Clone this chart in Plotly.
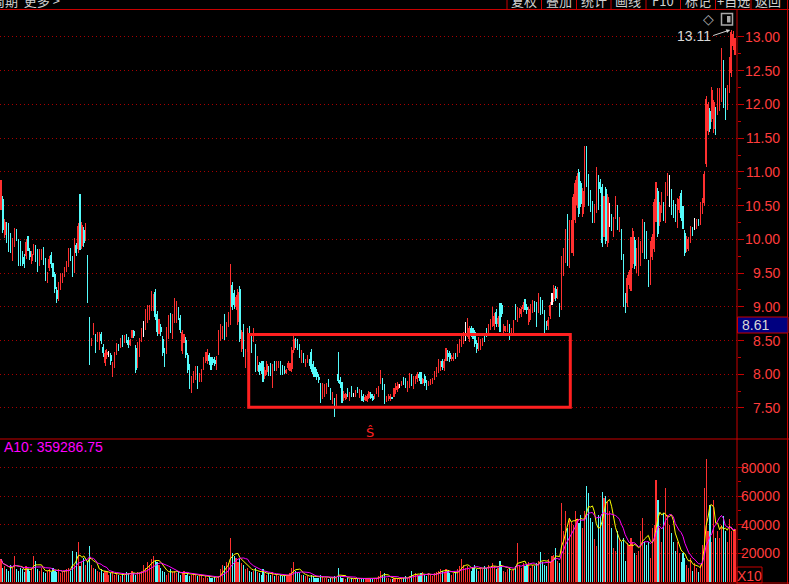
import plotly.graph_objects as go
import pandas as pd

W, H = 789, 584

opens = [
10.48,10.60,10.07,10.22,10.20,10.05,9.73,9.94,10.11,9.96,
9.94,9.79,9.74,9.76,10.01,9.83,9.68,9.82,9.88,9.82,
9.65,9.75,9.84,9.68,9.40,9.58,9.77,9.61,9.48,9.25,
9.14,9.30,9.40,9.49,9.57,9.64,9.83,9.71,9.55,9.91,
9.85,10.63,9.90,10.14,10.03,9.73,8.81,8.44,8.63,8.56,
8.53,8.41,8.59,8.41,8.17,8.28,8.30,8.28,8.01,8.14,
8.34,8.43,8.44,8.54,8.49,8.57,8.51,8.44,8.56,8.64,
8.39,8.14,8.31,8.53,8.67,8.71,8.81,8.85,8.99,8.99,
9.22,8.90,8.65,8.70,8.53,8.35,8.35,8.57,8.87,8.57,
8.81,8.81,8.96,8.84,8.35,8.51,8.51,8.28,8.11,7.77,
7.92,7.96,8.08,7.93,7.94,8.11,8.21,8.20,8.28,8.22,
8.22,8.21,8.11,8.34,8.55,8.57,8.85,8.60,8.75,8.78,
9.33,9.21,9.00,8.78,9.27,8.38,8.70,8.14,8.38,8.68,
8.57,8.53,8.41,8.10,8.14,8.16,8.15,7.98,8.04,8.08,
8.12,7.85,8.15,8.10,8.12,8.15,8.10,8.10,8.02,8.09,
8.07,8.08,8.36,8.50,8.48,8.41,8.21,8.28,8.13,8.18,
8.20,8.33,8.15,8.07,8.04,7.96,7.83,7.69,7.71,7.75,
7.91,7.76,7.61,7.61,7.56,8.00,7.92,7.85,7.65,7.64,
7.76,7.65,7.78,7.69,7.68,7.79,7.67,7.73,7.68,7.62,
7.61,7.65,7.71,7.68,7.65,7.73,7.71,7.87,7.90,7.82,
7.61,7.63,7.63,7.66,7.71,7.76,7.78,7.83,7.85,7.94,
7.90,7.79,7.85,7.96,7.83,7.88,7.93,8.00,7.99,7.87,
7.97,7.87,7.84,7.86,7.88,7.96,8.01,8.07,8.10,8.19,
8.10,8.25,8.32,8.31,8.22,8.22,8.29,8.31,8.37,8.45,
8.50,8.60,8.60,8.53,8.68,8.64,8.62,8.47,8.39,8.41,
8.45,8.58,8.65,8.64,8.71,8.75,8.71,8.92,8.75,9.02,
9.02,8.64,8.65,8.68,8.70,8.60,8.66,9.00,8.83,8.88,
8.90,8.96,9.07,9.00,8.78,8.85,8.96,9.04,9.03,8.96,
9.10,9.06,8.91,8.75,8.71,8.87,9.12,9.12,9.27,9.17,
9.02,9.00,9.50,9.70,10.34,9.62,9.85,9.80,10.29,10.51,
11.00,10.83,10.38,10.53,11.34,10.93,10.69,10.53,10.29,10.44,
10.91,10.85,10.78,10.08,10.74,9.94,10.36,10.34,10.08,10.35,
10.47,10.16,10.11,9.74,9.16,9.05,9.32,9.29,9.63,9.99,
9.55,9.51,9.65,9.85,10.22,10.08,9.65,9.37,9.74,9.86,
10.31,10.72,10.25,10.44,10.51,10.29,10.69,10.72,10.70,10.54,
10.48,10.22,10.44,10.69,10.45,10.10,9.86,9.88,10.00,10.15,
10.23,10.20,10.28,10.26,10.43,10.54,11.12,11.60,11.91,11.79,
11.63,11.92,11.89,11.95,12.09,12.62,12.20,11.97,12.22,12.46,
12.86,12.78]

highs = [
10.88,10.64,10.30,10.26,10.24,10.09,10.02,10.17,10.15,10.00,
9.98,9.83,9.78,10.00,10.05,9.87,9.83,9.93,9.92,9.86,
9.86,9.85,9.88,9.72,9.52,9.75,9.81,9.65,9.52,9.29,
9.37,9.50,9.50,9.59,9.68,9.87,9.87,9.75,10.02,9.95,
10.24,10.67,10.25,10.18,10.24,9.77,8.85,8.54,8.76,8.60,
8.63,8.63,8.63,8.45,8.36,8.37,8.35,8.32,8.18,8.33,
8.46,8.45,8.54,8.58,8.58,8.59,8.55,8.53,8.66,8.66,
8.43,8.48,8.54,8.69,8.79,8.97,9.03,9.03,9.23,9.19,
9.26,8.94,8.82,8.74,8.57,8.39,8.70,8.88,8.91,8.90,
9.13,9.08,9.00,8.88,8.66,8.60,8.55,8.32,8.15,7.97,
8.05,8.12,8.12,8.02,8.08,8.26,8.33,8.37,8.32,8.26,
8.26,8.25,8.27,8.66,8.74,8.72,8.89,8.77,8.92,9.63,
9.37,9.25,9.18,9.26,9.31,8.66,8.74,8.37,8.69,8.72,
8.61,8.69,8.45,8.27,8.18,8.20,8.19,8.11,8.19,8.12,
8.16,8.15,8.19,8.19,8.19,8.19,8.14,8.12,8.08,8.19,
8.16,8.40,8.56,8.54,8.52,8.45,8.36,8.32,8.23,8.29,
8.22,8.37,8.19,8.11,8.08,8.00,7.87,7.87,7.86,7.87,
7.93,7.80,7.74,7.65,7.71,8.33,7.96,7.89,7.75,7.72,
7.80,7.74,7.82,7.72,7.77,7.81,7.78,7.77,7.70,7.69,
7.70,7.75,7.73,7.70,7.70,7.80,7.82,8.07,7.94,7.86,
7.68,7.70,7.70,7.67,7.80,7.87,7.89,7.86,7.90,7.96,
7.94,7.90,8.02,8.00,7.98,7.98,8.04,8.04,8.03,7.95,
8.01,7.91,7.90,7.93,7.94,8.05,8.11,8.23,8.20,8.23,
8.23,8.39,8.36,8.35,8.28,8.31,8.31,8.45,8.52,8.60,
8.62,8.77,8.83,8.72,8.72,8.68,8.66,8.51,8.55,8.53,
8.54,8.60,8.69,8.74,8.82,8.99,8.91,8.96,8.87,9.06,
9.06,8.74,8.72,8.80,8.74,8.68,8.80,9.04,9.00,8.98,
9.00,9.07,9.11,9.04,9.00,9.04,9.10,9.08,9.07,9.20,
9.14,9.10,8.95,8.79,8.85,9.07,9.20,9.32,9.31,9.29,
9.06,9.75,9.87,10.15,10.38,10.29,10.29,10.67,10.88,10.98,
11.04,10.87,10.76,11.38,11.38,10.97,10.73,10.57,10.52,11.07,
10.95,10.89,10.82,10.64,10.78,10.67,10.54,10.38,10.33,10.64,
10.51,10.33,10.15,9.78,9.20,9.47,9.55,10.03,10.17,10.03,
9.87,10.03,9.98,10.30,10.26,10.12,9.69,9.98,10.08,10.60,
10.85,10.76,10.55,10.70,10.55,10.85,10.98,10.95,10.74,10.58,
10.52,10.61,10.64,10.73,10.49,10.14,10.05,10.04,10.20,10.19,
10.32,10.30,10.30,10.55,10.61,11.01,12.12,12.04,11.95,12.26,
12.07,11.96,12.24,12.24,12.84,12.66,12.24,12.29,12.70,13.11,
13.09,12.98]

lows = [
10.43,10.09,10.02,9.95,9.81,9.80,9.68,9.89,9.98,9.60,
9.60,9.60,9.58,9.71,9.83,9.69,9.63,9.77,9.66,9.52,
9.60,9.70,9.62,9.38,9.35,9.53,9.58,9.44,9.21,9.06,
9.09,9.25,9.35,9.44,9.52,9.59,9.68,9.44,9.50,9.75,
9.80,9.84,9.85,9.89,9.98,9.06,8.14,8.42,8.58,8.32,
8.48,8.36,8.45,8.26,8.12,8.23,8.25,8.14,7.96,8.09,
8.29,8.34,8.39,8.40,8.47,8.47,8.39,8.42,8.54,8.54,
8.02,8.09,8.26,8.48,8.55,8.66,8.76,8.80,8.94,8.94,
8.80,8.57,8.60,8.57,8.27,8.11,8.30,8.52,8.61,8.52,
8.76,8.76,8.80,8.61,8.30,8.46,8.24,8.02,7.78,7.72,
7.87,7.91,7.78,7.88,7.89,8.06,8.16,8.15,8.14,8.06,
8.14,8.12,8.06,8.29,8.50,8.52,8.51,8.55,8.70,8.73,
8.95,8.97,8.95,8.73,8.48,8.33,8.26,8.09,8.33,8.51,
8.32,8.48,8.03,8.05,7.99,8.00,7.88,7.93,7.99,7.97,
7.97,7.80,8.05,8.05,8.10,7.99,7.99,8.00,8.00,8.07,
8.05,8.03,8.31,8.39,8.36,8.24,8.16,8.16,8.11,8.16,
8.12,8.03,7.96,7.96,7.91,7.87,7.57,7.64,7.66,7.70,
7.81,7.62,7.56,7.37,7.51,7.87,7.80,7.57,7.60,7.62,
7.66,7.60,7.67,7.66,7.66,7.72,7.65,7.60,7.59,7.60,
7.59,7.63,7.63,7.60,7.64,7.71,7.66,7.85,7.77,7.56,
7.59,7.61,7.61,7.63,7.66,7.71,7.73,7.80,7.83,7.84,
7.80,7.74,7.80,7.83,7.78,7.85,7.88,7.90,7.86,7.85,
7.82,7.77,7.82,7.84,7.86,7.91,7.96,8.02,8.05,8.06,
8.05,8.20,8.20,8.18,8.20,8.20,8.22,8.26,8.32,8.40,
8.45,8.50,8.55,8.48,8.55,8.53,8.40,8.32,8.34,8.36,
8.42,8.48,8.55,8.61,8.66,8.70,8.66,8.70,8.70,8.63,
8.85,8.61,8.63,8.63,8.51,8.58,8.61,8.80,8.78,8.83,
8.85,8.92,8.95,8.90,8.73,8.80,8.91,8.93,8.70,8.91,
8.88,8.90,8.61,8.66,8.66,8.82,9.03,9.07,9.08,9.12,
8.85,8.95,9.45,9.65,9.60,9.57,9.80,9.75,10.24,10.46,
10.33,10.48,10.33,10.48,10.78,10.49,10.41,10.24,10.24,10.39,
10.43,10.69,9.89,10.03,9.93,9.89,10.18,10.12,10.03,10.30,
10.14,10.11,9.69,9.00,8.91,9.00,9.27,9.24,9.58,9.56,
9.50,9.46,9.60,9.80,9.71,9.71,9.29,9.32,9.69,9.81,
10.26,10.03,10.20,10.39,10.27,10.24,10.64,10.48,10.36,10.32,
10.26,10.17,10.39,10.27,10.15,9.75,9.81,9.83,9.95,10.05,
10.14,10.15,10.20,10.21,10.38,10.49,11.07,11.55,11.59,11.74,
11.58,11.55,11.84,11.90,12.04,11.95,11.77,11.92,12.17,12.41,
12.81,12.73]

closes = [
10.84,10.14,10.26,10.00,9.86,9.85,9.98,10.13,10.03,9.65,
9.65,9.65,9.63,9.96,9.88,9.74,9.79,9.89,9.71,9.57,
9.82,9.81,9.67,9.43,9.48,9.71,9.63,9.49,9.26,9.11,
9.33,9.46,9.46,9.55,9.64,9.83,9.73,9.49,9.98,9.80,
10.20,9.89,10.21,9.94,10.20,9.11,8.19,8.52,8.72,8.37,
8.59,8.59,8.50,8.31,8.32,8.33,8.30,8.19,8.14,8.29,
8.42,8.36,8.50,8.45,8.56,8.49,8.44,8.51,8.64,8.56,
8.07,8.44,8.50,8.65,8.67,8.93,8.99,8.99,9.19,9.15,
8.85,8.62,8.78,8.62,8.32,8.16,8.66,8.84,8.66,8.86,
9.09,9.04,8.85,8.66,8.62,8.56,8.29,8.07,7.83,7.93,
8.01,8.08,7.83,7.98,8.04,8.22,8.29,8.33,8.19,8.11,
8.17,8.15,8.23,8.62,8.70,8.68,8.56,8.73,8.88,9.59,
9.00,9.02,9.14,9.22,8.53,8.62,8.31,8.33,8.65,8.56,
8.37,8.65,8.08,8.23,8.04,8.05,7.93,8.07,8.15,8.02,
8.02,8.11,8.10,8.15,8.17,8.04,8.04,8.02,8.06,8.17,
8.14,8.36,8.52,8.44,8.41,8.29,8.32,8.21,8.21,8.27,
8.14,8.08,8.01,8.01,7.96,7.92,7.62,7.83,7.82,7.83,
7.83,7.67,7.70,7.42,7.67,7.90,7.85,7.62,7.71,7.70,
7.71,7.70,7.72,7.69,7.75,7.74,7.76,7.65,7.61,7.67,
7.68,7.73,7.65,7.62,7.69,7.78,7.78,8.05,7.82,7.61,
7.66,7.68,7.68,7.64,7.76,7.83,7.85,7.83,7.88,7.86,
7.85,7.86,7.98,7.88,7.94,7.95,8.00,7.95,7.91,7.93,
7.87,7.82,7.88,7.91,7.92,8.01,8.07,8.19,8.16,8.11,
8.19,8.35,8.25,8.23,8.26,8.29,8.24,8.41,8.48,8.56,
8.58,8.60,8.79,8.68,8.60,8.58,8.45,8.37,8.51,8.49,
8.51,8.50,8.58,8.71,8.78,8.95,8.87,8.75,8.83,8.68,
8.90,8.71,8.70,8.76,8.56,8.66,8.76,8.85,8.96,8.94,
8.96,9.03,9.00,8.95,8.96,9.00,9.06,8.98,8.75,9.16,
8.93,8.95,8.66,8.70,8.81,9.03,9.12,9.28,9.13,9.25,
8.90,9.71,9.83,10.11,9.65,10.25,10.25,10.63,10.84,10.94,
10.38,10.53,10.72,11.34,10.83,10.54,10.46,10.29,10.48,11.03,
10.48,10.74,9.94,10.60,9.98,10.63,10.36,10.17,10.29,10.60,
10.19,10.29,9.74,9.05,8.96,9.43,9.51,9.99,10.13,9.61,
9.83,9.99,9.94,10.26,9.76,9.76,9.34,9.94,10.04,10.56,
10.81,10.08,10.51,10.66,10.32,10.81,10.94,10.72,10.41,10.37,
10.31,10.57,10.60,10.32,10.20,9.80,10.01,10.00,10.16,10.10,
10.23,10.26,10.22,10.51,10.57,10.97,12.08,12.00,11.64,12.22,
12.03,11.60,12.20,12.20,12.80,12.00,11.82,12.25,12.66,13.07,
13.05,12.94]

volumes_thousand = [
16,10,11,9,8,12,10,18,9,8, 10,9,7,11,9,8,10,18,15,9,
8,10,7,6,8,9,7,10,8,7, 9,6,7,8,9,10,8,22,12,21,
28,11,14,17,12,15,
25,12,10,9,8,7,9,6,8,7, 5,6,7,5,6,5,4,6,5,7,
6,5,8,6,5,7,6,8,12,10, 14,12,16,18,15,14,12,10,8,7,
5,6,9,7,8,6,7,5,6,8, 5,6,4,5,6,5,4,5,4,3,
4,3,4,3,3,4,3,4,9,12, 11,14,13,31,20,18,17,14,16,13,
12,
9,10,8,7,8,10,7,6,5,9, 6,5,6,5,7,4,5,4,5,4,
5,4,5,6,10,14,8,7,6,5, 5,4,4,3,5,4,3,3,3,5,
4,3,3,2,3,3,4,3,10,4, 3,3,2,3,2,3,2,2,3,2,
2,3,2,2,3,2,2,3,3,4,
8,5,6,3,3,2,2,3,3,2, 2,3,3,4,3,4,8,5,6,5,
4,6,7,5,4,6,5,4,6,7, 8,9,8,7,9,8,6,5,6,7,
9,11,16,12,10,11,9,8,10,12, 9,8,10,9,11,10,12,10,13,11,
9,10,15,12,8,7,9,10,8,9, 11,27,12,10,13,11,12,14,10,12,
11,13,15,21,14,12,11,16,14,18, 19,24,15,13,
55,36,50,38,44,42,40,50,44,41, 47,38,50,67,62,45,42,30,25,47,
46,63,59,60,56,50,38,24,22,36, 31,28,31,15,27,26,31,28,20,19,
22,36,45,28,26,28,17,38,40,71, 57,38,28,48,66,47,40,34,28,22,
28,20,14,20,17,12,10,17,8,13, 10,7,12,26,66,86,
36,54,28,57,31,36,31,40,46,36,28,44,36,36,37]

price_ticks = [7.5, 8.0, 8.5, 9.0, 9.5, 10.0, 10.5, 11.0, 11.5, 12.0, 12.5, 13.0]
price_minor = [7.75, 8.25, 8.75, 9.25, 9.75, 10.25, 10.75, 11.25, 11.75, 12.25, 12.75]
vol_ticks = [20000, 40000, 60000, 80000]
vol_minor = [30000, 50000, 70000]
menu_items = ["复权", "叠加", "统计", "画线", "F10", "标记", "+自选", "返回"]
menu_centers = [524, 559, 594, 628, 663, 698, 733, 768]
menu_separators = [507, 541.5, 576.5, 611, 646, 680.5, 715.5, 751]
top_left_text = "周期  更多 >"
volume_label = "A10: 359286.75"
high_label = "13.11"
high_value = 13.11
cursor_label = "8.61"
scale_label = "X10"
signal_label = "Ŝ"

# ---------------------------------------------------------------
n = len(closes)
idx = list(range(n))
volumes = [v * 1000 for v in volumes_thousand]

RED = "rgba(255,48,48,0.996)"
CYAN = "rgba(84,252,252,0.996)"
WHITE = "rgba(255,255,255,0.996)"
colors = [RED if c > o else (CYAN if c < o else WHITE) for o, c in zip(opens, closes)]
vcolors = [CYAN if c < o else RED for o, c in zip(opens, closes)]

FRAME = "#c80000"
GRID = "#a80000"
LABEL = "#ff3c3c"
NARROW = "Liberation Sans Narrow, Liberation Sans, Arial, sans-serif"
CJK = "Noto Sans CJK SC, sans-serif"

AXIS_X = 737
spacing = 734.0 / (n - 1)
xr0 = -1.0 / spacing
xr1 = xr0 + AXIS_X / spacing


def fx(p):
    return p / W


def fy(p):
    return 1 - p / H


vol_ma5 = pd.Series(volumes).rolling(5, min_periods=1).mean()
vol_ma10 = pd.Series(volumes).rolling(10, min_periods=1).mean()

fig = go.Figure()
# wicks (low -> high)
fig.add_trace(go.Bar(
    x=idx, y=[h - l for h, l in zip(highs, lows)], base=lows, width=0.55,
    marker=dict(color=colors, line=dict(width=0)), xaxis="x", yaxis="y",
    hoverinfo="skip", showlegend=False))
# bodies (open <-> close)
fig.add_trace(go.Bar(
    x=idx, y=[abs(c - o) for o, c in zip(opens, closes)],
    base=[min(o, c) for o, c in zip(opens, closes)], width=0.72,
    marker=dict(color=colors, line=dict(width=0)), xaxis="x", yaxis="y",
    hoverinfo="skip", showlegend=False))
# volume
fig.add_trace(go.Bar(
    x=idx, y=volumes, width=0.58,
    marker=dict(color=vcolors, line=dict(width=0)), xaxis="x", yaxis="y2",
    hoverinfo="skip", showlegend=False))
fig.add_trace(go.Scatter(x=idx, y=vol_ma5, mode="lines",
                         line=dict(color="#ffff00", width=1), xaxis="x", yaxis="y2",
                         hoverinfo="skip", showlegend=False))
fig.add_trace(go.Scatter(x=idx, y=vol_ma10, mode="lines",
                         line=dict(color="#ff00ff", width=1), xaxis="x", yaxis="y2",
                         hoverinfo="skip", showlegend=False))

fig.update_layout(
    width=W, height=H, margin=dict(l=0, r=0, t=0, b=0),
    paper_bgcolor="#000000", plot_bgcolor="#000000",
    barmode="overlay", bargap=0, showlegend=False,
    xaxis=dict(domain=[0, fx(AXIS_X)], range=[xr0, xr1], visible=False,
               fixedrange=True),
    yaxis=dict(domain=[fy(439), fy(10)], range=[7.04, 13.40], side="right",
               anchor="x", showline=False, zeroline=False,
               tickmode="array", tickvals=price_ticks, showticklabels=False,
               ticks="outside", ticklen=6, tickwidth=1, tickcolor=FRAME,
               showgrid=True, gridcolor=GRID, gridwidth=1, griddash="1px,3px",
               minor=dict(tickmode="array", tickvals=price_minor, ticks="outside",
                          ticklen=3, tickcolor=FRAME, showgrid=False),
               fixedrange=True),
    yaxis2=dict(domain=[fy(582), fy(439)], range=[0, 100000], side="right",
                anchor="x", showline=False, zeroline=False,
                tickmode="array", tickvals=vol_ticks, showticklabels=False,
                ticks="outside", ticklen=6, tickwidth=1, tickcolor=FRAME,
                showgrid=True, gridcolor=GRID, gridwidth=1, griddash="1px,3px",
                minor=dict(tickmode="array", tickvals=vol_minor, ticks="outside",
                           ticklen=3, tickcolor=FRAME, showgrid=False),
                fixedrange=True),
)

shapes = []


def pline(x0, y0, x1, y1, color=FRAME, width=1):
    shapes.append(dict(type="line", xref="paper", yref="paper",
                       x0=fx(x0), y0=fy(y0), x1=fx(x1), y1=fy(y1),
                       line=dict(color=color, width=width)))


pline(0, 9.5, W, 9.5)
for sx in menu_separators:
    pline(sx, 0, sx, 9.5)
pline(787.5, 0, 787.5, H)
pline(AXIS_X, 9.5, AXIS_X, H)
pline(0, 439, W, 439)
pline(0, 583, W, 583)
# highlighted rectangle
shapes.append(dict(type="rect", xref="paper", yref="paper",
                   x0=fx(248.7), x1=fx(570.3), y0=fy(407.3), y1=fy(334.5),
                   line=dict(color="#ff2020", width=3)))
# X10 box
shapes.append(dict(type="rect", xref="paper", yref="paper",
                   x0=fx(737), x1=fx(762), y0=fy(583), y1=fy(567),
                   line=dict(color=FRAME, width=1)))
# cursor price box
shapes.append(dict(type="rect", xref="paper", yref="paper",
                   x0=fx(737.5), x1=fx(788), y0=fy(333), y1=fy(317),
                   fillcolor="#000080", line=dict(color=FRAME, width=1)))
# small toggle icon
shapes.append(dict(type="rect", xref="paper", yref="paper",
                   x0=fx(721.5), x1=fx(732.5), y0=fy(25), y1=fy(13.5),
                   line=dict(color="#a8a8a8", width=1.5)))
shapes.append(dict(type="rect", xref="paper", yref="paper",
                   x0=fx(727), x1=fx(730.5), y0=fy(22.5), y1=fy(16),
                   fillcolor="#a8a8a8", line=dict(width=0)))

ann = []
for v in price_ticks:
    ann.append(dict(x=fx(782), xref="paper", y=v, yref="y", text=f"{v:.2f}",
                    xanchor="right", yanchor="middle", showarrow=False,
                    font=dict(family=NARROW, size=14, color=LABEL)))
for v in vol_ticks:
    ann.append(dict(x=fx(782), xref="paper", y=v, yref="y2", text=str(v),
                    xanchor="right", yanchor="middle", showarrow=False,
                    font=dict(family=NARROW, size=14, color=LABEL)))
for t, cx in zip(menu_items, menu_centers):
    ann.append(dict(x=fx(cx), xref="paper", y=fy(1.0), yref="paper", text=t,
                    xanchor="center", yanchor="middle", showarrow=False,
                    font=dict(family=CJK, size=13, color="#d0d0d0")))
ann.append(dict(x=fx(-10), xref="paper", y=fy(1.0), yref="paper", text=top_left_text,
                xanchor="left", yanchor="middle", showarrow=False,
                font=dict(family=CJK, size=13, color="#d0d0d0")))
ann.append(dict(x=fx(2), xref="paper", y=fy(447), yref="paper", text=volume_label,
                xanchor="left", yanchor="middle", showarrow=False,
                font=dict(family=NARROW, size=14, color="#ff00ff")))
ann.append(dict(x=fx(740), xref="paper", y=fy(325), yref="paper", text=cursor_label,
                xanchor="left", yanchor="middle", showarrow=False,
                font=dict(family=NARROW, size=14, color="#d8d8d8")))
ann.append(dict(x=fx(749.5), xref="paper", y=fy(575.5), yref="paper", text=scale_label,
                xanchor="center", yanchor="middle", showarrow=False,
                font=dict(family=NARROW, size=14, color=LABEL)))
ann.append(dict(x=fx(369.5), xref="paper", y=fy(432), yref="paper", text=signal_label,
                xanchor="center", yanchor="middle", showarrow=False,
                font=dict(family="DejaVu Sans", size=13, color="#ff2020")))
ann.append(dict(x=fx(708), xref="paper", y=fy(19), yref="paper", text="◇",
                xanchor="center", yanchor="middle", showarrow=False,
                font=dict(family="DejaVu Sans", size=14, color="#b4b4b4")))
hi_idx = highs.index(max(highs))
ann.append(dict(x=hi_idx, xref="x", y=high_value, yref="y", text=high_label,
                showarrow=True, ax=-18, ay=6, xanchor="right", yanchor="middle",
                arrowcolor="#d0d0d0", arrowwidth=1, arrowhead=2, arrowsize=0.8,
                standoff=1, font=dict(family=NARROW, size=14, color="#d8d8d8")))

fig.update_layout(shapes=shapes, annotations=ann)
fig.write_html(
    "out.html",
    config={"displayModeBar": False},
    post_script="document.body.style.margin='0';document.body.style.overflow='hidden';"
                "document.documentElement.style.overflow='hidden';",
)
